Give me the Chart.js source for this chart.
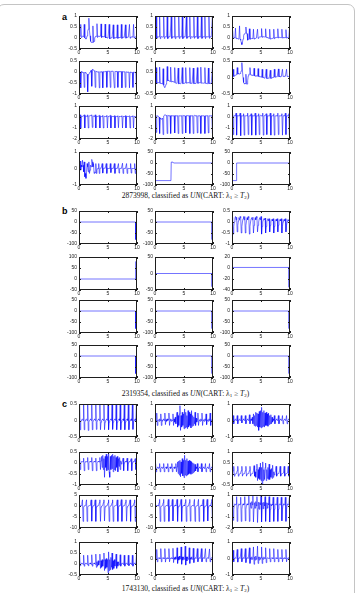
<!DOCTYPE html>
<html>
<head>
<meta charset="utf-8">
<script src="https://cdn.jsdelivr.net/npm/chart.js@4.4.0/dist/chart.umd.min.js"></script>
<style>
body { margin: 0; background: #fff; }
#fig { position: relative; width: 357px; height: 593px; overflow: hidden; }
#frame { position: absolute; left: -3px; top: 4px; width: 358px; height: 600px; border: 1px solid #c4c4c4; border-radius: 7px; box-sizing: border-box; }
canvas { position: absolute; }
.tag { position: absolute; left: 62px; font: bold 9px "Liberation Sans", Arial, sans-serif; line-height: 9px; color: #000; }
.cap { position: absolute; left: 60px; width: 251px; text-align: center; font: 7.5px "Liberation Serif", serif; line-height: 8px; color: #111; white-space: nowrap; }
.cap sub { font-size: 5px; line-height: 0; vertical-align: -1px; }
</style>
</head>
<body>
<div id="fig">
  <div id="frame"></div>
  <div class="tag" style="top:13px">a</div>
  <div class="tag" style="top:207px">b</div>
  <div class="tag" style="top:400px">c</div>
  <div class="cap" style="top:192px">2873998, classified as <i>UN</i>(CART: λ<sub>1</sub> ≥ <i>T</i><sub>2</sub>)</div>
  <div class="cap" style="top:390px">2319354, classified as <i>UN</i>(CART: λ<sub>1</sub> ≥ <i>T</i><sub>2</sub>)</div>
  <div class="cap" style="top:585px">1743130, classified as <i>UN</i>(CART: λ<sub>1</sub> ≥ <i>T</i><sub>2</sub>)</div>
</div>
<script>
// sample times (s) shared by the sampled traces
var times = [0,0.1,0.2,0.3,0.4,0.5,0.6,0.7,0.8,0.9,
  1,1.1,1.2,1.3,1.4,1.5,1.6,1.7,1.8,1.9,
  2,2.1,2.2,2.3,2.4,2.5,2.6,2.7,2.8,2.9,
  3,3.1,3.2,3.3,3.4,3.5,3.6,3.7,3.8,3.9,
  4,4.1,4.2,4.3,4.4,4.5,4.6,4.7,4.8,4.9,
  5,5.1,5.2,5.3,5.4,5.5,5.6,5.7,5.8,5.9,
  6,6.1,6.2,6.3,6.4,6.5,6.6,6.7,6.8,6.9,
  7,7.1,7.2,7.3,7.4,7.5,7.6,7.7,7.8,7.9,
  8,8.1,8.2,8.3,8.4,8.5,8.6,8.7,8.8,8.9,
  9,9.1,9.2,9.3,9.4,9.5,9.6,9.7,9.8,9.9,10]

var xTicks = [0, 5, 10]
var t05_1 = [-0.5, 0, 0.5, 1]
var t1_05 = [-1, -0.5, 0, 0.5]
var t05 = [-0.5, 0, 0.5]
var t2_1 = [-2, -1, 0, 1]
var t1 = [-1, 0, 1]
var t100_50 = [-100, -50, 0, 50]
var t50_100 = [-50, 0, 50, 100]
var t50 = [-50, 0, 50]
var t40_20 = [-40, -20, 0, 20]
var t10_5 = [-10, -5, 0, 5]

// panel a
var a11 = [0.08,0.07,0.08,0.62,0.02,0.07,0.08,0.07,0.06,0.62,
  0.0,-0.02,-0.05,0.0,0.1,0.3,0.4,0.9,0.35,0.1,
  -0.15,-0.2,-0.18,-0.2,0.55,-0.2,-0.15,0.0,0.06,0.08,
  0.08,0.65,0.02,0.08,0.09,0.08,0.07,0.08,0.64,0.02,
  0.07,0.06,0.06,0.05,0.05,0.63,0.0,0.03,0.02,0.0,
  0.0,0.0,0.62,-0.04,0.0,0.0,0.01,0.0,0.0,0.6,
  -0.03,0.01,0.0,0.01,0.02,0.01,0.6,-0.02,0.02,0.03,
  0.02,0.02,0.03,0.62,-0.02,0.03,0.03,0.04,0.03,0.03,
  0.6,-0.01,0.04,0.04,0.03,0.04,0.04,0.62,-0.01,0.04,
  0.05,0.04,0.05,0.04,0.62,0.0,0.04,0.05,0.04,0.05,0.04]
var a12 = [0.05,0.06,1.0,-0.03,0.05,0.06,0.05,0.06,0.98,-0.03,
  0.05,0.06,0.05,0.04,0.06,1.0,-0.02,0.05,0.06,0.05,
  0.06,1.0,-0.03,0.05,0.04,0.06,0.05,0.05,0.98,-0.02,
  0.05,0.06,0.05,0.04,1.0,-0.03,0.06,0.05,0.05,0.06,
  0.05,0.97,-0.02,0.05,0.06,0.05,0.06,1.0,-0.03,0.05,
  0.04,0.06,0.05,0.05,0.98,-0.02,0.05,0.06,0.05,0.06,
  1.0,-0.03,0.05,0.06,0.05,0.04,0.05,0.97,-0.02,0.06,
  0.05,0.05,0.06,1.0,-0.03,0.05,0.06,0.05,0.05,0.06,
  0.98,-0.02,0.05,0.05,0.06,0.05,1.0,-0.03,0.05,0.06,
  0.05,0.06,0.05,0.97,-0.02,0.05,0.06,0.05,0.05,1.0,0.04]
var a13 = [0.02,0.35,-0.02,0.0,0.01,0.0,0.45,-0.03,0.0,-0.02,
  -0.03,-0.05,0.0,0.55,-0.05,-0.1,-0.2,-0.3,-0.2,-0.05,
  0.1,0.18,0.2,0.22,0.5,0.2,0.2,-0.1,-0.05,-0.04,
  0.42,-0.06,-0.04,-0.03,-0.03,-0.02,-0.03,0.4,-0.05,-0.02,
  -0.02,-0.01,0.0,0.0,0.4,-0.02,0.02,0.04,0.05,0.05,
  0.06,0.43,0.03,0.07,0.06,0.06,0.05,0.05,0.42,0.02,
  0.03,0.02,0.0,-0.01,-0.02,0.4,-0.05,-0.03,-0.03,-0.02,
  -0.01,0.0,0.4,-0.03,0.01,0.02,0.02,0.03,0.02,0.42,
  0.0,0.02,0.03,0.02,0.02,0.02,0.4,-0.01,0.02,0.01,
  0.02,0.01,0.02,0.38,-0.01,0.02,0.02,0.01,0.02,0.38,0.02]
var a21 = [0.0,-0.02,0.0,-0.72,0.02,-0.01,-0.02,-0.03,-0.02,-0.7,
  0.0,-0.03,-0.05,-0.08,-0.1,-0.9,-0.12,-0.1,-0.05,0.0,
  0.05,0.08,-0.65,0.12,0.1,0.08,0.06,0.04,-0.7,0.04,
  0.02,0.01,0.0,0.0,0.01,-0.72,0.02,0.0,0.01,0.0,
  0.01,-0.72,0.02,0.02,0.01,0.02,0.03,0.03,-0.7,0.04,
  0.03,0.03,0.04,0.03,-0.7,0.04,0.03,0.03,0.04,0.03,
  0.03,-0.72,0.03,0.02,0.03,0.02,0.02,-0.7,0.02,0.02,
  0.01,0.02,0.01,0.02,-0.72,0.02,0.01,0.01,0.01,0.0,
  -0.7,0.01,0.0,0.0,-0.01,0.0,-0.01,-0.72,0.0,-0.01,
  -0.02,-0.01,-0.02,-0.7,0.0,-0.02,-0.02,-0.01,-0.02,-0.7,-0.02]
var a22 = [0.0,0.01,0.7,-0.02,0.0,0.01,0.02,0.0,0.72,-0.02,
  0.0,-0.02,-0.03,-0.05,0.65,-0.1,-0.18,-0.2,-0.15,-0.05,
  0.02,0.75,0.1,0.12,0.1,0.08,0.07,0.72,0.05,0.06,
  0.07,0.05,0.05,0.03,0.7,0.0,0.0,-0.01,-0.02,-0.02,
  0.68,-0.04,-0.02,-0.02,-0.03,-0.02,-0.02,0.7,-0.03,-0.02,
  -0.01,0.0,0.01,0.7,-0.01,0.02,0.01,0.02,0.01,0.0,
  0.7,-0.02,0.0,-0.01,-0.02,-0.02,0.68,-0.03,-0.02,-0.01,
  -0.02,-0.01,-0.01,0.7,-0.02,0.0,0.01,0.02,0.01,0.72,
  -0.01,0.0,0.0,-0.01,-0.01,0.0,0.7,-0.02,-0.01,-0.02,
  -0.03,-0.02,0.68,-0.03,-0.02,-0.01,-0.02,-0.01,-0.01,0.7,0.0]
var a23 = [0.0,0.02,0.25,0.03,0.05,0.06,0.07,0.08,0.1,0.3,
  0.1,0.12,0.11,0.1,0.12,0.15,0.2,0.45,0.2,0.0,
  -0.15,-0.18,-0.2,-0.18,0.1,-0.2,-0.2,-0.1,0.05,0.1,
  0.1,0.3,0.08,0.08,0.07,0.07,0.06,0.06,0.28,0.05,
  0.05,0.04,0.05,0.04,0.04,0.27,0.03,0.03,0.02,0.02,
  0.02,0.01,0.25,0.0,0.0,-0.01,-0.02,-0.02,-0.02,0.25,
  -0.03,-0.03,-0.03,-0.02,-0.03,-0.03,0.22,-0.03,-0.02,-0.01,
  0.0,0.0,0.01,0.25,0.01,0.01,0.02,0.02,0.02,0.02,
  0.26,0.02,0.03,0.03,0.02,0.03,0.03,0.25,0.03,0.03,
  0.04,0.03,0.04,0.04,0.25,0.03,0.04,0.03,0.04,0.03,0.03]
var a31 = [0.05,0.05,0.2,-1.05,0.05,0.05,0.06,0.05,0.05,0.2,
  -1.0,0.1,0.08,0.06,0.06,0.2,-1.0,0.1,0.1,0.12,
  0.15,0.15,0.2,-0.95,0.1,0.08,0.06,0.05,0.2,-1.0,
  0.06,0.05,0.05,0.05,0.05,0.15,-1.0,0.05,0.05,0.04,
  0.05,0.15,-1.0,0.05,0.05,0.05,0.04,0.05,0.15,-1.0,
  0.05,0.04,0.05,0.05,0.15,-1.0,0.05,0.05,0.05,0.04,
  0.05,0.12,-1.0,0.05,0.04,0.05,0.05,0.12,-0.98,0.05,
  0.05,0.04,0.05,0.05,0.12,-1.0,0.05,0.05,0.04,0.05,
  0.12,-1.0,0.05,0.05,0.05,0.04,0.05,0.12,-1.0,0.05,
  0.05,0.04,0.05,0.12,-1.0,0.05,0.05,0.04,0.05,0.05,0.05]
var a32 = [0.1,0.12,-1.4,0.12,0.1,0.08,0.05,0.0,-1.5,-0.1,
  -0.15,-0.2,-0.18,-0.1,-1.6,0.1,0.15,0.2,0.18,0.15,
  0.12,-1.5,0.15,0.12,0.1,0.1,0.12,-1.5,0.12,0.1,
  0.1,0.12,0.1,0.12,-1.45,0.12,0.1,0.1,0.12,0.1,
  -1.5,0.12,0.1,0.12,0.1,0.1,0.12,-1.5,0.15,0.12,
  0.1,0.12,0.1,-1.45,0.12,0.1,0.12,0.1,0.1,0.12,
  -1.5,0.12,0.1,0.1,0.12,0.1,-1.5,0.12,0.15,0.12,
  0.1,0.1,0.12,-1.45,0.12,0.1,0.1,0.12,0.1,-1.5,
  0.12,0.1,0.1,0.1,0.12,0.1,-1.5,0.12,0.1,0.1,
  0.12,0.1,-1.45,0.12,0.1,0.1,0.1,0.12,0.1,-1.5,0.1]
var a33 = [0.1,0.3,-1.6,0.1,0.12,0.1,0.1,0.35,-1.65,0.12,
  0.1,0.1,0.12,0.1,0.35,-1.7,0.1,0.12,0.1,0.1,
  0.3,-1.65,0.12,0.1,0.1,0.12,0.1,0.35,-1.6,0.1,
  0.1,0.12,0.1,0.3,-1.65,0.12,0.1,0.1,0.1,0.12,
  0.35,-1.65,0.1,0.12,0.1,0.1,0.3,-1.6,0.12,0.15,
  0.12,0.1,0.1,0.35,-1.65,0.1,0.12,0.1,0.1,0.3,
  -1.6,0.1,0.12,0.1,0.1,0.12,0.35,-1.65,0.1,0.1,
  0.12,0.1,0.3,-1.65,0.1,0.1,0.12,0.1,0.1,0.35,
  -1.6,0.12,0.1,0.1,0.1,0.12,0.3,-1.65,0.1,0.1,
  0.12,0.1,0.35,-1.6,0.1,0.1,0.12,0.1,0.3,-1.65,0.1]
var a41 = [0.1,0.3,0.45,-0.1,0.2,0.1,0.5,0.2,-0.2,0.4,
  -0.5,-0.3,-0.6,-0.2,0.3,0.1,-0.2,0.4,-0.3,-0.1,
  0.2,0.1,0.55,0.4,0.1,0.3,-0.3,-0.2,-0.25,0.3,
  -0.3,-0.1,0.0,0.0,0.3,-0.3,0.0,0.02,0.0,0.0,
  0.3,-0.28,0.0,0.0,0.02,0.0,0.0,0.3,-0.3,0.02,
  0.0,0.0,0.0,0.02,0.3,-0.25,0.0,0.0,0.02,0.0,
  0.0,0.3,-0.3,0.0,0.0,0.02,0.0,0.0,0.3,-0.28,
  0.0,0.0,0.02,0.0,0.0,0.32,-0.3,0.0,0.0,0.02,
  0.0,0.0,0.3,-0.3,0.0,0.0,0.02,0.0,0.0,0.3,
  -0.28,0.0,0.0,0.02,0.0,0.0,0.3,-0.3,0.0,0.0,0.0]
var a42x = [0, 2.75, 2.8, 3.1, 3.2, 10]
var a42y = [-80, -80, 4, 4, 0, 0]
var a43x = [0, 0.75, 0.8, 10]
var a43y = [-80, -80, 0, 0]

// panel b
var b11x = [0, 9.75, 9.75], b11y = [0, 0, -80]
var b12x = [0, 9.85, 9.85], b12y = [0, 0, -80]
var b13 = [0.1,0.22,-0.55,-0.2,0.0,0.15,0.25,0.1,0.22,-0.45,
  -0.15,0.05,0.2,0.1,0.25,0.2,-0.5,-0.2,0.0,0.15,
  0.25,0.1,0.25,-0.5,-0.15,0.05,0.2,0.1,0.25,0.2,
  -0.55,-0.2,0.0,0.15,0.2,0.1,0.22,-0.5,-0.15,0.05,
  0.2,0.1,0.25,0.2,-0.45,-0.15,0.0,0.15,0.2,0.1,
  0.25,-0.55,-0.2,0.0,0.1,0.15,0.1,0.18,-0.5,-0.2,
  0.0,0.1,0.15,0.05,0.15,-0.45,-0.15,0.0,0.1,0.12,
  0.05,0.15,-0.5,-0.2,0.0,0.1,0.12,0.05,0.15,-0.45,
  -0.15,0.0,0.1,0.12,0.05,0.15,-0.5,-0.2,0.0,0.1,
  0.12,0.05,0.15,-0.45,-0.15,0.0,0.1,0.1,0.05,0.12,-0.05]
var b21x = [0, 9.75, 9.75], b21y = [0, 0, 80]
var b22x = [0, 9.85, 9.85], b22y = [0, 0, -40]
var b23x = [0, 9.85, 9.85], b23y = [1, 1, -35]
var b31x = [0, 9.75, 9.75], b31y = [0, 0, -80]
var b32x = [0, 9.85, 9.85], b32y = [0, 0, -80]
var b33x = [0, 9.85, 9.85], b33y = [0, 0, -80]
var b41x = [0, 9.75, 9.75], b41y = [0, 0, -80]
var b42x = [0, 9.85, 9.85], b42y = [0, 0, -80]
var b43x = [0, 9.85, 9.85], b43y = [0, 0, -80]

// panel c
var c11 = [0.0,0.5,-0.28,-0.05,0.0,0.03,0.05,0.0,0.5,-0.28,
  -0.05,0.0,0.03,0.05,0.0,0.5,-0.3,-0.05,0.0,0.03,
  0.05,0.0,0.5,-0.28,-0.05,0.0,0.03,0.05,0.0,0.5,
  -0.27,-0.05,0.0,0.03,0.05,0.0,0.5,-0.28,-0.05,0.0,
  0.03,0.05,0.0,0.5,-0.28,-0.05,0.0,0.03,0.05,0.0,
  0.5,-0.28,-0.05,0.0,0.03,0.05,0.0,0.5,-0.27,-0.05,
  0.0,0.03,0.05,0.0,0.5,-0.28,-0.05,0.0,0.03,0.05,
  0.0,0.5,-0.28,-0.05,0.0,0.03,0.05,0.0,0.5,-0.28,
  -0.05,0.0,0.03,0.05,0.0,0.5,-0.28,-0.05,0.0,0.03,
  0.05,0.0,0.5,-0.27,-0.05,0.0,0.03,0.05,0.0,0.5,-0.2]
var c12 = [0.0,0.05,-0.05,0.45,-0.3,0.0,0.05,-0.05,0.1,0.0,
  0.4,-0.3,0.05,-0.05,0.05,0.1,0.0,0.45,-0.25,0.05,
  -0.05,0.1,0.0,0.05,0.45,-0.3,0.0,0.1,-0.05,0.05,
  0.0,0.4,-0.3,0.1,-0.1,0.2,-0.2,0.3,0.5,-0.4,
  0.3,-0.3,0.4,0.9,-0.6,0.3,-0.4,0.5,-0.3,0.4,
  -0.5,0.7,-0.45,0.5,-0.4,0.3,-0.5,0.6,-0.4,0.5,
  -0.3,0.4,-0.45,0.6,-0.35,0.3,-0.3,0.2,-0.2,0.5,
  -0.3,0.15,-0.1,0.05,0.45,-0.3,0.0,0.05,-0.05,0.1,
  0.0,0.45,-0.3,0.0,0.05,-0.05,0.1,0.0,0.4,-0.25,
  0.0,0.05,-0.05,0.1,0.0,0.45,-0.3,0.0,0.05,0.1,0.5]
var c13 = [0.0,0.05,0.3,-0.2,0.0,0.05,0.1,0.0,0.05,0.3,
  -0.2,0.0,0.05,0.1,0.0,0.05,0.3,-0.15,0.0,0.05,
  0.1,0.0,0.05,0.3,-0.2,0.0,0.05,0.1,0.0,0.05,
  0.35,-0.2,0.05,0.1,0.0,0.2,-0.2,0.4,-0.3,0.3,
  -0.35,0.5,-0.3,0.45,-0.4,0.4,-0.6,0.55,-0.4,0.6,
  -0.45,0.8,-0.4,0.5,-0.35,0.6,-0.4,0.45,-0.3,0.5,
  -0.3,0.4,-0.35,0.45,-0.25,0.3,-0.2,0.35,-0.2,0.2,
  -0.1,0.1,0.0,0.3,-0.2,0.0,0.05,0.1,0.0,0.05,
  0.3,-0.2,0.0,0.05,0.1,0.0,0.05,0.3,-0.2,0.0,
  0.05,0.1,0.0,0.05,0.3,-0.2,0.0,0.05,0.1,0.0,0.2]
var c21 = [0.05,0.22,-0.3,0.0,0.05,0.08,0.05,0.05,0.22,-0.35,
  0.0,0.05,0.08,0.05,0.05,0.25,-0.3,0.0,0.05,0.08,
  0.05,0.05,0.25,-0.35,0.0,0.05,0.08,0.05,0.05,0.22,
  -0.35,0.0,0.05,0.08,0.05,0.05,0.25,-0.3,0.1,0.3,
  -0.2,0.35,-0.3,0.2,-0.65,0.3,-0.2,0.4,-0.35,0.3,
  -0.3,0.45,-0.4,-0.65,0.3,-0.3,0.35,-0.25,0.4,-0.4,
  0.3,-0.3,0.35,-0.35,0.25,-0.2,0.3,-0.4,0.2,-0.15,
  0.25,-0.3,0.1,-0.05,0.05,0.08,0.22,-0.35,0.0,0.05,
  0.08,0.05,0.05,0.22,-0.35,0.0,0.05,0.08,0.05,0.05,
  0.2,-0.35,0.0,0.05,0.08,0.05,0.05,0.2,-0.3,0.05,-0.45]
var c22 = [0.0,0.3,-0.2,0.0,0.05,0.1,0.0,0.05,0.3,-0.2,
  0.0,0.05,0.1,0.0,0.05,0.3,-0.2,0.0,0.05,0.1,
  0.0,0.05,0.3,-0.2,0.0,0.05,0.1,0.0,0.05,0.3,
  -0.2,0.0,0.05,0.1,0.0,0.05,0.3,-0.2,0.1,0.4,
  -0.3,0.45,-0.4,0.5,-0.5,0.4,-0.3,0.6,-0.45,0.5,
  -0.55,0.8,-0.4,0.5,-0.45,0.6,-0.4,0.45,-0.35,0.5,
  -0.3,0.45,-0.35,0.4,-0.3,0.35,-0.25,0.3,-0.2,0.25,
  -0.15,0.1,0.0,0.3,-0.2,0.0,0.05,0.1,0.0,0.05,
  0.3,-0.2,0.0,0.05,0.1,0.0,0.05,0.3,-0.2,0.0,
  0.05,0.1,0.0,0.05,0.3,-0.2,0.0,0.05,0.1,0.0,0.3]
var c23 = [-0.05,0.0,0.15,0.35,-0.1,0.0,0.0,0.02,0.05,0.15,
  0.35,-0.1,0.0,0.0,0.02,0.05,0.15,0.35,-0.1,0.0,
  0.0,0.02,0.05,0.15,0.35,-0.1,0.0,0.0,0.02,0.05,
  0.15,0.35,-0.1,0.0,0.0,0.02,0.05,0.15,0.38,-0.1,
  0.1,-0.15,0.2,0.45,-0.3,0.2,-0.2,0.3,-0.25,0.5,
  -0.3,0.3,-0.45,0.55,-0.3,0.2,-0.25,0.3,0.5,-0.3,
  0.2,-0.2,0.3,-0.25,0.45,-0.25,0.2,-0.15,0.25,-0.2,
  0.4,-0.15,0.1,-0.05,0.05,0.15,0.35,-0.1,0.0,0.0,
  0.02,0.05,0.15,0.35,-0.1,0.0,0.0,0.02,0.05,0.15,
  0.35,-0.1,0.0,0.0,0.02,0.05,0.15,0.35,-0.1,0.0,0.0]
var c31 = [0.0,0.0,0.2,0.3,0.2,1.5,2.8,-7.0,-0.5,0.0,
  0.2,0.3,1.5,2.8,-7.0,-0.5,0.0,0.0,0.2,0.3,
  1.5,2.8,-6.9,-0.5,0.0,0.2,0.3,1.5,2.8,-7.0,
  -0.5,0.0,0.0,0.2,0.3,1.5,2.8,-7.0,-0.5,0.0,
  0.2,0.3,1.5,2.8,-6.8,-0.5,0.0,0.0,0.2,0.3,
  1.5,2.8,-7.0,-0.5,0.0,0.2,0.3,1.5,2.8,-7.0,
  -0.5,0.0,0.0,0.2,0.3,1.5,2.8,-7.0,-0.5,0.0,
  0.2,0.3,1.5,2.9,-7.0,-0.5,0.0,0.0,0.2,0.3,
  1.5,2.8,-6.9,-0.5,0.0,0.2,0.3,1.5,2.8,-7.0,
  -0.5,0.0,0.0,0.2,0.3,1.5,2.8,-7.0,-0.5,0.0,0.0]
var c32 = [0.0,0.0,0.2,0.3,0.2,0.0,0.0,1.5,3.0,-7.0,
  -0.5,0.0,0.0,0.2,1.5,3.0,-7.0,-0.5,0.0,0.2,
  0.3,0.0,1.5,3.0,-7.0,-0.5,0.0,0.0,0.2,1.5,
  3.0,-6.8,-0.5,0.0,0.2,0.3,0.0,1.5,3.0,-7.0,
  -0.5,0.0,0.0,0.2,1.5,3.0,-7.0,-0.5,0.0,0.2,
  0.3,0.0,1.5,3.0,-7.0,-0.5,0.0,0.0,0.2,1.5,
  3.0,-6.9,-0.5,0.0,0.2,0.3,0.0,1.5,3.0,-7.0,
  -0.5,0.0,0.0,0.2,1.5,3.0,-7.0,-0.5,0.0,0.2,
  0.3,0.0,1.5,3.0,-7.0,-0.5,0.0,0.0,0.2,1.5,
  3.0,-6.8,-0.5,0.0,0.2,0.3,0.0,1.5,3.0,-7.0,-0.5]
var c33 = [0.0,0.8,-1.3,-0.3,0.1,0.2,0.1,0.15,0.85,-1.4,
  -0.3,0.1,0.2,0.1,0.15,0.8,-1.4,-0.3,0.1,0.2,
  0.1,0.15,0.85,-1.35,-0.3,0.1,0.2,0.1,0.15,0.9,
  -1.4,-0.3,0.3,-0.2,0.4,0.1,0.9,-1.45,-0.2,0.3,
  -0.2,0.4,0.0,0.85,-1.5,-0.2,0.35,-0.3,0.3,0.1,
  0.95,-1.45,-0.2,0.3,-0.25,0.35,0.0,0.85,-1.4,-0.2,
  0.3,-0.2,0.25,0.1,0.85,-1.45,-0.3,0.2,0.0,0.15,
  0.1,0.8,-1.4,-0.3,0.1,0.2,0.1,0.15,0.8,-1.4,
  -0.3,0.1,0.2,0.1,0.15,0.8,-1.35,-0.3,0.1,0.2,
  0.1,0.15,0.8,-1.4,-0.3,0.1,0.2,0.1,0.15,0.75,-1.0]
var c41 = [-0.05,0.4,-0.08,0.0,0.02,0.05,0.0,-0.02,0.4,-0.1,
  0.0,0.02,0.05,0.0,-0.02,0.4,-0.08,0.0,0.02,0.05,
  0.0,-0.02,0.42,-0.1,0.0,0.02,0.05,0.0,-0.02,0.45,
  -0.15,0.1,-0.1,0.15,-0.05,0.1,0.45,-0.2,0.15,-0.15,
  0.2,-0.1,0.15,0.5,-0.3,0.2,-0.2,0.25,-0.15,0.2,
  -0.4,0.55,-0.3,0.2,-0.25,0.3,-0.15,0.5,-0.25,0.15,
  -0.2,0.2,-0.1,0.15,0.45,-0.2,0.1,-0.1,0.1,-0.05,
  0.0,0.42,-0.1,0.0,0.02,0.05,0.0,-0.02,0.4,-0.1,
  0.0,0.02,0.05,0.0,-0.02,0.4,-0.08,0.0,0.02,0.05,
  0.0,-0.02,0.4,-0.1,0.0,0.02,0.05,0.0,-0.02,0.4,-0.05]
var c42 = [0.0,0.02,0.0,0.55,-0.2,0.0,0.02,0.05,0.0,0.0,
  0.6,-0.2,0.0,0.02,0.05,0.0,0.0,0.6,-0.22,0.0,
  0.02,0.05,0.0,0.0,0.6,-0.2,0.0,0.02,0.05,0.0,
  0.0,0.62,-0.25,0.05,-0.05,0.1,-0.05,0.05,0.65,-0.3,
  0.1,-0.1,0.15,-0.05,0.05,0.7,-0.35,0.1,-0.1,0.1,
  -0.05,0.05,0.75,-0.4,0.1,-0.15,0.1,-0.05,0.05,0.65,
  -0.3,0.05,-0.05,0.1,-0.05,0.0,0.62,-0.25,0.0,0.02,
  0.05,0.0,0.0,0.6,-0.2,0.0,0.02,0.05,0.0,0.0,
  0.6,-0.2,0.0,0.02,0.05,0.0,0.0,0.6,-0.2,0.0,
  0.02,0.05,0.0,0.0,0.58,-0.2,0.0,0.02,0.05,0.0,0.55]
var c43 = [0.0,0.02,0.5,-0.2,0.0,0.02,0.05,0.0,0.0,0.55,
  -0.22,0.0,0.02,0.05,0.0,0.0,0.6,-0.2,0.0,0.02,
  0.05,0.0,0.0,0.6,-0.25,0.0,0.02,0.05,0.0,0.0,
  0.65,-0.3,0.05,-0.05,0.1,-0.05,0.05,0.7,-0.35,0.1,
  -0.1,0.15,-0.05,0.05,0.75,-0.3,0.1,-0.1,0.1,-0.05,
  0.05,0.7,-0.3,0.05,-0.05,0.1,0.0,0.0,0.65,-0.25,
  0.0,0.02,0.05,0.0,0.0,0.6,-0.2,0.0,0.02,0.05,
  0.0,0.0,0.6,-0.2,0.0,0.02,0.05,0.0,0.0,0.55,
  -0.2,0.0,0.02,0.05,0.0,0.0,0.55,-0.2,0.0,0.02,
  0.05,0.0,0.0,0.55,-0.2,0.0,0.02,0.05,0.0,0.0,0.0]

var colLefts = [79, 155, 232]
var rowTops = { a: [16, 61, 106, 152], b: [211, 257, 300, 345], c: [404, 452, 495, 542] }
var boxW = 58, boxH = 33

var plots = [
  { p: 'a', r: 0, c: 0, x: times, y: a11, t: t05_1 },
  { p: 'a', r: 0, c: 1, x: times, y: a12, t: t05_1 },
  { p: 'a', r: 0, c: 2, x: times, y: a13, t: t05_1 },
  { p: 'a', r: 1, c: 0, x: times, y: a21, t: t1_05 },
  { p: 'a', r: 1, c: 1, x: times, y: a22, t: t05_1 },
  { p: 'a', r: 1, c: 2, x: times, y: a23, t: t05 },
  { p: 'a', r: 2, c: 0, x: times, y: a31, t: t2_1 },
  { p: 'a', r: 2, c: 1, x: times, y: a32, t: t2_1 },
  { p: 'a', r: 2, c: 2, x: times, y: a33, t: t2_1 },
  { p: 'a', r: 3, c: 0, x: times, y: a41, t: t1 },
  { p: 'a', r: 3, c: 1, x: a42x, y: a42y, t: t100_50 },
  { p: 'a', r: 3, c: 2, x: a43x, y: a43y, t: t100_50 },
  { p: 'b', r: 0, c: 0, x: b11x, y: b11y, t: t100_50 },
  { p: 'b', r: 0, c: 1, x: b12x, y: b12y, t: t100_50 },
  { p: 'b', r: 0, c: 2, x: times, y: b13, t: t1_05 },
  { p: 'b', r: 1, c: 0, x: b21x, y: b21y, t: t50_100 },
  { p: 'b', r: 1, c: 1, x: b22x, y: b22y, t: t50 },
  { p: 'b', r: 1, c: 2, x: b23x, y: b23y, t: t40_20 },
  { p: 'b', r: 2, c: 0, x: b31x, y: b31y, t: t100_50 },
  { p: 'b', r: 2, c: 1, x: b32x, y: b32y, t: t100_50 },
  { p: 'b', r: 2, c: 2, x: b33x, y: b33y, t: t100_50 },
  { p: 'b', r: 3, c: 0, x: b41x, y: b41y, t: t100_50 },
  { p: 'b', r: 3, c: 1, x: b42x, y: b42y, t: t100_50 },
  { p: 'b', r: 3, c: 2, x: b43x, y: b43y, t: t100_50 },
  { p: 'c', r: 0, c: 0, x: times, y: c11, t: t05 },
  { p: 'c', r: 0, c: 1, x: times, y: c12, t: t1 },
  { p: 'c', r: 0, c: 2, x: times, y: c13, t: t1 },
  { p: 'c', r: 1, c: 0, x: times, y: c21, t: t1_05 },
  { p: 'c', r: 1, c: 1, x: times, y: c22, t: t1 },
  { p: 'c', r: 1, c: 2, x: times, y: c23, t: t05_1 },
  { p: 'c', r: 2, c: 0, x: times, y: c31, t: t10_5 },
  { p: 'c', r: 2, c: 1, x: times, y: c32, t: t10_5 },
  { p: 'c', r: 2, c: 2, x: times, y: c33, t: t2_1 },
  { p: 'c', r: 3, c: 0, x: times, y: c41, t: t05_1 },
  { p: 'c', r: 3, c: 1, x: times, y: c42, t: t1 },
  { p: 'c', r: 3, c: 2, x: times, y: c43, t: t1 }
]

// matlab style box with inward ticks
var boxPlugin = {
  id: 'box',
  afterDraw: function (chart) {
    var ctx = chart.ctx, a = chart.chartArea, sx = chart.scales.x, sy = chart.scales.y
    ctx.save()
    ctx.strokeStyle = '#1e1e1e'
    ctx.lineWidth = 1
    ctx.strokeRect(a.left + 0.5, a.top + 0.5, a.right - a.left - 1, a.bottom - a.top - 1)
    ctx.beginPath()
    sx.ticks.forEach(function (t) {
      var px = Math.round(sx.getPixelForValue(t.value)) + 0.5
      ctx.moveTo(px, a.bottom); ctx.lineTo(px, a.bottom - 2)
      ctx.moveTo(px, a.top); ctx.lineTo(px, a.top + 2)
    })
    sy.ticks.forEach(function (t) {
      var py = Math.round(sy.getPixelForValue(t.value)) + 0.5
      ctx.moveTo(a.left, py); ctx.lineTo(a.left + 2, py)
      ctx.moveTo(a.right, py); ctx.lineTo(a.right - 2, py)
    })
    ctx.stroke()
    ctx.restore()
  }
}

var tickFont = { family: 'Liberation Sans', size: 5 }
var fig = document.getElementById('fig')

plots.forEach(function (pl) {
  var cv = document.createElement('canvas')
  cv.width = boxW + 26
  cv.height = boxH + 14
  cv.style.left = (colLefts[pl.c] - 20) + 'px'
  cv.style.top = (rowTops[pl.p][pl.r] - 4) + 'px'
  fig.appendChild(cv)
  var pts = pl.x.map(function (x, i) { return { x: x, y: pl.y[i] } })
  var yt = pl.t
  new Chart(cv, {
    type: 'line',
    data: {
      datasets: [{
        data: pts,
        borderColor: '#0000ff',
        borderWidth: 0.55,
        pointRadius: 0,
        tension: 0
      }]
    },
    options: {
      responsive: false,
      animation: false,
      devicePixelRatio: 1,
      layout: { padding: { top: 4, right: 6, left: 0, bottom: 0 } },
      plugins: { legend: { display: false }, tooltip: { enabled: false } },
      scales: {
        x: {
          type: 'linear', min: 0, max: 10,
          afterBuildTicks: function (s) { s.ticks = xTicks.map(function (v) { return { value: v } }) },
          afterFit: function (s) { s.height = 10; s.paddingLeft = 0; s.paddingRight = 0 },
          grid: { display: false, drawTicks: false }, border: { display: false },
          ticks: { font: tickFont, color: '#222', padding: 1, maxRotation: 0, autoSkip: false,
            callback: function (v) { return String(v) } }
        },
        y: {
          type: 'linear', min: yt[0], max: yt[yt.length - 1],
          afterBuildTicks: function (s) { s.ticks = yt.map(function (v) { return { value: v } }) },
          afterFit: function (s) { s.width = 20; s.paddingTop = 0; s.paddingBottom = 0 },
          grid: { display: false, drawTicks: false }, border: { display: false },
          ticks: { font: tickFont, color: '#222', padding: 2, autoSkip: false,
            callback: function (v) { return String(v) } }
        }
      }
    },
    plugins: [boxPlugin]
  })
})
</script>
</body>
</html>
